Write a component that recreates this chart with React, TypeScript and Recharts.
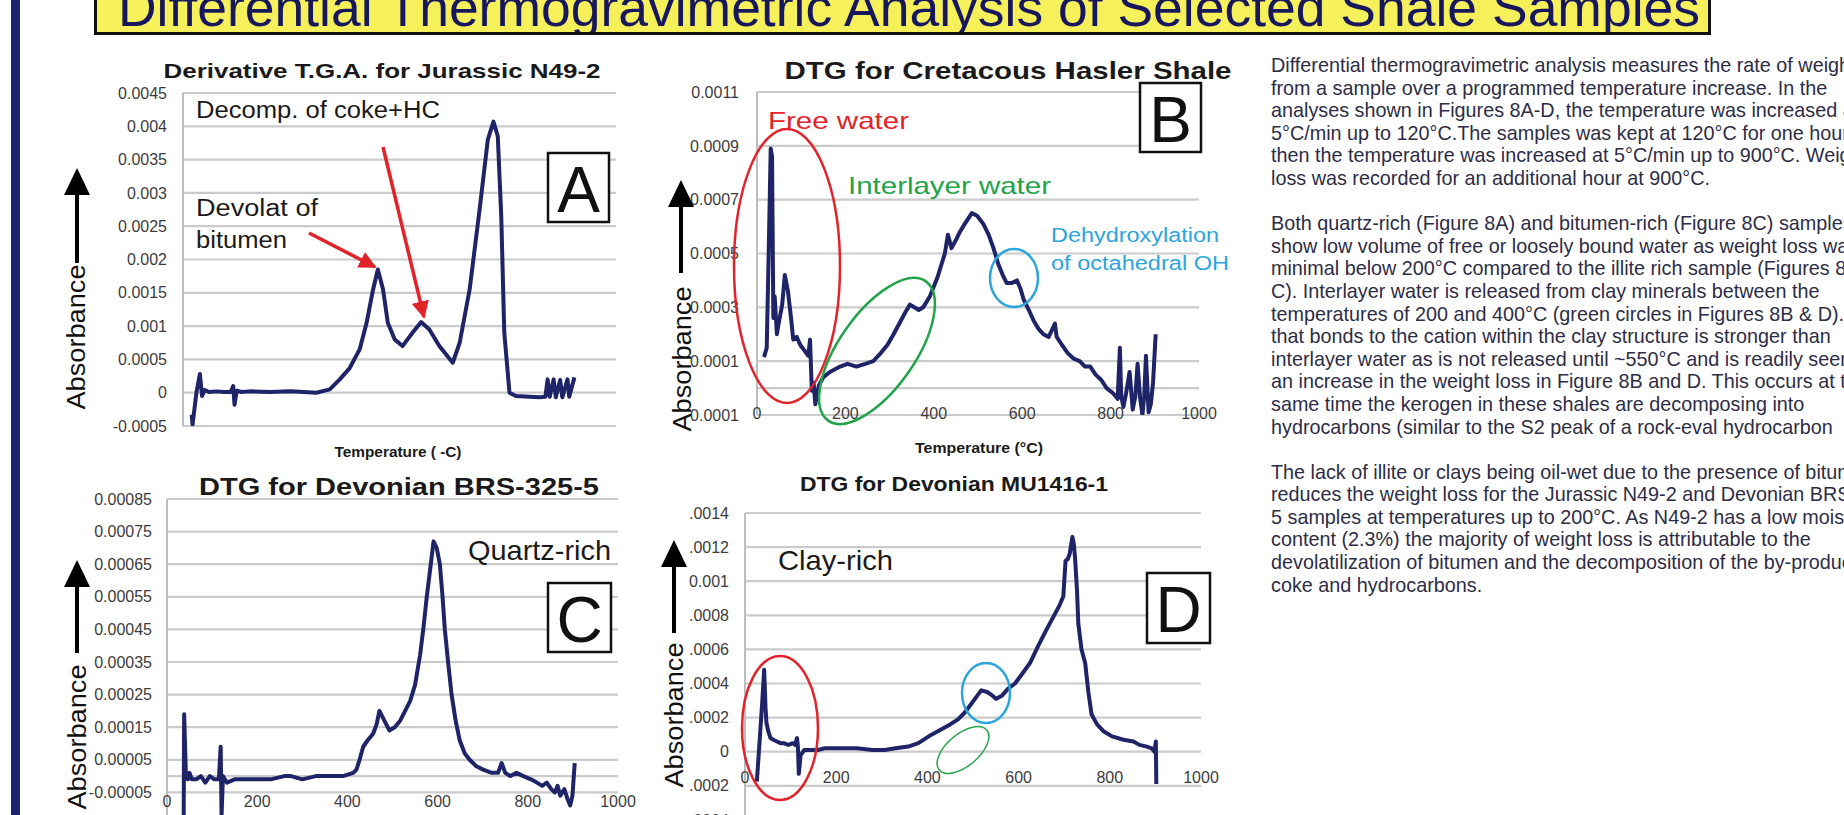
import React from 'react';
import { LineChart, Line, XAxis, YAxis, CartesianGrid } from 'recharts';

const FONT = '"Liberation Sans", Arial, Helvetica, sans-serif';

// ---- chart A : Derivative T.G.A. for Jurassic N49-2 ----
const A_TEMP = [20, 22, 31, 39, 44, 50, 60, 77, 95, 110, 116, 119, 124, 135, 153, 200, 249, 308, 339, 362, 385, 408, 424, 439, 450, 462, 473, 489, 507, 530, 550, 569, 592, 623, 639, 662, 685, 704, 717, 727, 735, 742, 754, 769, 800, 823, 837, 842, 847, 856, 861, 871, 876, 888, 892, 904];
const A_DTG = [-0.00033, -0.00048, 0, 0.00028, -0.00005, 0.00004, 0.00001, 0.00002, 0.00001, 0.00001, 0.0001, -0.00018, 0.00003, 0.00001, 0.00002, 0.00001, 0.00002, 0, 0.00005, 0.0002, 0.00037, 0.00065, 0.00105, 0.00155, 0.00185, 0.00155, 0.00105, 0.0008, 0.0007, 0.0009, 0.00106, 0.00095, 0.0007, 0.00045, 0.00075, 0.00155, 0.00275, 0.0038, 0.00407, 0.00385, 0.00265, 0.0009, 0, -0.00005, -0.00006, -0.00007, -0.00006, 0.0002, -0.00006, 0.0002, -0.00007, 0.00019, -0.00007, 0.0002, -0.00006, 0.00023];
const A_Y_TICKS = [-0.0005, 0, 0.0005, 0.001, 0.0015, 0.002, 0.0025, 0.003, 0.0035, 0.004, 0.0045];
const A_Y_LABELS = ['-0.0005', '0', '0.0005', '0.001', '0.0015', '0.002', '0.0025', '0.003', '0.0035', '0.004', '0.0045'];

// ---- chart B : DTG for Cretacous Hasler Shale ----
const B_TEMP = [16, 22, 27, 31, 34, 37, 40, 45, 50, 57, 63, 70, 77, 82, 90, 98, 107, 116, 120, 124, 128, 132, 140, 150, 165, 188, 205, 225, 245, 263, 280, 295, 309, 322, 335, 346, 356, 366, 376, 391, 408, 425, 432, 440, 450, 459, 470, 486, 498, 512, 524, 535, 546, 556, 565, 576, 588, 596, 603, 615, 626, 637, 648, 660, 674, 678, 690, 703, 716, 730, 742, 754, 766, 779, 791, 806, 816, 821, 824, 829, 835, 843, 850, 856, 861, 867, 872, 876, 880, 886, 891, 896, 902];
const B_DTG = [0.000115, 0.00015, 0.00055, 0.00089, 0.00086, 0.00026, 0.00034, 0.0002, 0.00025, 0.00031, 0.00042, 0.00036, 0.00026, 0.00018, 0.00019, 0.00016, 0.00014, 0.00012, 0.00018, -0.00001, 0.00002, -0.00006, 0.00001, 0.00004, 0.00006, 0.00008, 0.00009, 0.00008, 0.00009, 0.0001, 0.00013, 0.00016, 0.0002, 0.00024, 0.00028, 0.00031, 0.0003, 0.00029, 0.0003, 0.00034, 0.00041, 0.0005, 0.00057, 0.00052, 0.00055, 0.00058, 0.00061, 0.00065, 0.00064, 0.00061, 0.00057, 0.00052, 0.00046, 0.00042, 0.00039, 0.00039, 0.0004, 0.00037, 0.00033, 0.00029, 0.00025, 0.00022, 0.0002, 0.00019, 0.00024, 0.00019, 0.00016, 0.00013, 0.00011, 0.0001, 0.00008, 0.00008, 0.00005, 0.00003, 0, -0.00002, -0.00004, 0.00015, -0.00003, -0.00007, -0.00002, 0.00006, -0.00008, -0.00003, 0.00009, -0.00004, -0.0001, -0.00003, 0.00012, -0.00009, -0.00006, 0.00002, 0.0002];
const B_Y_TICKS = [-0.0001, 0, 0.0001, 0.0003, 0.0005, 0.0007, 0.0009, 0.0011];
const B_Y_LABELS = ['0.0001', '', '0.0001', '0.0003', '0.0005', '0.0007', '0.0009', '0.0011'];

// ---- chart C : DTG for Devonian BRS-325-5 ----
const C_TEMP = [37, 38, 42, 46, 50, 55, 65, 75, 85, 95, 105, 115, 119, 121, 124, 133, 150, 170, 183, 200, 230, 260, 275, 300, 330, 367, 390, 413, 420, 427, 435, 445, 457, 465, 471, 482, 493, 505, 517, 528, 539, 550, 561, 569, 576, 584, 591, 598, 605, 611, 616, 624, 631, 640, 649, 660, 671, 686, 701, 720, 734, 742, 750, 761, 775, 790, 807, 820, 832, 842, 852, 860, 866, 872, 881, 888, 894, 899, 904];
const C_DTG = [-0.00012, 0.00019, 0, -0.00001, 0.00001, -0.00001, -0.00001, 0, -0.00002, 0, -0.00001, -0.00001, 0.00009, -0.00012, 0, -0.00002, -0.00001, -0.00001, -0.00001, -0.00001, -0.00001, 0, 0, -0.00001, 0, 0, 0, 0.00001, 0.00002, 0.00005, 0.00009, 0.00011, 0.00013, 0.00016, 0.0002, 0.00017, 0.00014, 0.00015, 0.00017, 0.0002, 0.00023, 0.00028, 0.00037, 0.00046, 0.00055, 0.00064, 0.00072, 0.0007, 0.00065, 0.00055, 0.00045, 0.00034, 0.00025, 0.00017, 0.00011, 0.00007, 0.00005, 0.00003, 0.00002, 0.00001, 0.00001, 0.00004, 0.00001, 0, 0.00001, 0, -0.00001, -0.00002, -0.00003, -0.00002, -0.00004, -0.00005, -0.00003, -0.00006, -0.00004, -0.00007, -0.00009, -0.00006, 0.00004];
const C_Y_TICKS = [-0.00015, -0.00005, 0, 0.00005, 0.00015, 0.00025, 0.00035, 0.00045, 0.00055, 0.00065, 0.00075, 0.00085];
const C_Y_LABELS = ['-0.00015', '-0.00005', '', '0.00005', '0.00015', '0.00025', '0.00035', '0.00045', '0.00055', '0.00065', '0.00075', '0.00085'];

// ---- chart D : DTG for Devonian MU1416-1 ----
const D_TEMP = [26, 33, 38, 42, 45, 47, 51, 56, 62, 70, 78, 85, 95, 105, 110, 114, 116, 118, 122, 130, 144, 160, 175, 200, 245, 280, 306, 330, 358, 380, 409, 430, 450, 467, 482, 496, 507, 518, 531, 542, 551, 564, 577, 592, 606, 625, 643, 662, 680, 690, 698, 703, 708, 712, 718, 721, 724, 728, 731, 738, 746, 753, 760, 772, 786, 805, 830, 852, 865, 881, 892, 898, 901, 902];
const D_DTG = [-0.000176, 0.0001, 0.0003, 0.00048, 0.00026, 0.00017, 0.00012, 0.00008, 0.00007, 0.00006, 0.00005, 0.00005, 0.00004, 0.00005, 0.00004, 0.00008, 0.00003, -0.00013, -0.00002, 0.00001, 0.00001, 0.00001, 0.00002, 0.00002, 0.00002, 0.00001, 0.00001, 0.00002, 0.00003, 0.00005, 0.0001, 0.00013, 0.00016, 0.00019, 0.00023, 0.00028, 0.00032, 0.00036, 0.00035, 0.00033, 0.00031, 0.00033, 0.00037, 0.0004, 0.00045, 0.00052, 0.00062, 0.00072, 0.00081, 0.00086, 0.00091, 0.00112, 0.00113, 0.00116, 0.00126, 0.00122, 0.00113, 0.00095, 0.00075, 0.0006, 0.00052, 0.00035, 0.00022, 0.00016, 0.00012, 0.00009, 0.00007, 0.00006, 0.00004, 0.00003, 0.00002, 0, 0.00006, -0.00019];
const D_Y_TICKS = [-0.0006, -0.0004, -0.0002, 0, 0.0002, 0.0004, 0.0006, 0.0008, 0.001, 0.0012, 0.0014];
const D_Y_LABELS = ['.0006', '.0004', '.0002', '0', '.0002', '.0004', '.0006', '.0008', '0.001', '.0012', '.0014'];

const X_TICKS = [0, 200, 400, 600, 800, 1000];
const X_LABELS = ['0', '200', '400', '600', '800', '1000'];

const TEXT_LINES = [
  'Differential thermogravimetric analysis measures the rate of weight loss',
  'from a sample over a programmed temperature increase. In the',
  'analyses shown in Figures 8A-D, the temperature was increased at',
  '5°C/min up to 120°C.The samples was kept at 120°C for one hour,',
  'then the temperature was increased at 5°C/min up to 900°C. Weight',
  'loss was recorded for an additional hour at 900°C.',
  '',
  'Both quartz-rich (Figure 8A) and bitumen-rich (Figure 8C) samples',
  'show low volume of free or loosely bound water as weight loss was',
  'minimal below 200°C compared to the illite rich sample (Figures 8B &',
  'C). Interlayer water is released from clay minerals between the',
  'temperatures of 200 and 400°C (green circles in Figures 8B & D). Water',
  'that bonds to the cation within the clay structure is stronger than',
  'interlayer water as is not released until ~550°C and is readily seen as',
  'an increase in the weight loss in Figure 8B and D. This occurs at the',
  'same time the kerogen in these shales are decomposing into',
  'hydrocarbons (similar to the S2 peak of a rock-eval hydrocarbon',
  '',
  'The lack of illite or clays being oil-wet due to the presence of bitumen',
  'reduces the weight loss for the Jurassic N49-2 and Devonian BRS-325-',
  '5 samples at temperatures up to 200°C. As N49-2 has a low moisture',
  'content (2.3%) the majority of weight loss is attributable to the',
  'devolatilization of bitumen and the decomposition of the by-products',
  'coke and hydrocarbons.',
];

const LINE_COLOR = '#1f2468';

function Panel({ temps, values, yDomain, yTicks, yLabels, left, top, width, height, gap, xLabelY }: any) {
  const data = temps.map((t: number, i: number) => ({ t, v: values[i] }));
  const padL = 110, padT = 20, padR = 20, padB = 40;
  const boxLeft = left - padL;
  const boxTop = top - padT;

  const fmt = (v: number) => {
    const i = yTicks.findIndex((k: number) => Math.abs(k - v) < 1e-12);
    return i >= 0 ? yLabels[i] : '';
  };

  // x labels sit just below the zero line, like the Excel axis crossing at 0
  const XTick = (props: any) => {
    const { x, payload } = props;
    if (xLabelY == null) return <g />;
    const i = X_TICKS.indexOf(payload.value);
    return (
      <text x={x} y={xLabelY - boxTop} textAnchor="middle" dominantBaseline="central" fontSize={16} fill="#3c3c3c" fontFamily={FONT}>
        {X_LABELS[i]}
      </text>
    );
  };

  return (
    <div style={{ position: 'absolute', left: boxLeft, top: boxTop }}>
      <LineChart width={width + padL + padR} height={height + padT + padB} data={data} margin={{ top: padT, right: padR, bottom: 0, left: 0 }}>
        <CartesianGrid vertical={false} stroke="#cbcbcb" strokeWidth={2.2} />
        <XAxis type="number" dataKey="t" domain={[0, 1000]} ticks={X_TICKS} interval={0} height={padB} tickLine={false} axisLine={false} tickSize={0} tick={XTick} allowDataOverflow />
        <YAxis type="number" domain={yDomain} ticks={yTicks} interval={0} width={padL} tickLine={false} tickSize={0} tickMargin={gap} axisLine={{ stroke: '#bdbdbd', strokeWidth: 2 }} tick={{ fontSize: 16, fill: '#3c3c3c', fontFamily: FONT }} tickFormatter={fmt} allowDataOverflow />
        <Line type="linear" dataKey="v" stroke={LINE_COLOR} strokeWidth={4} strokeLinejoin="round" dot={false} isAnimationActive={false} />
      </LineChart>
    </div>
  );
}

function Fit({ x, y, w, size, bold, color, anchor, children }: any) {
  return (
    <text x={x} y={y} fontSize={size} fontWeight={bold ? 'bold' : 'normal'} fill={color || '#1a1a1a'} fontFamily={FONT}
      textAnchor={anchor || 'start'} dominantBaseline="central" textLength={w} lengthAdjust="spacingAndGlyphs">
      {children}
    </text>
  );
}

function Absorbance({ cx, cy, ax, tip, bottom }: any) {
  return (
    <g>
      <text x={cx} y={cy} fontSize={26} fill="#111" fontFamily={FONT} textAnchor="middle" dominantBaseline="central"
        transform={`rotate(-90 ${cx} ${cy})`} textLength={145} lengthAdjust="spacingAndGlyphs">Absorbance</text>
      <line x1={ax} y1={bottom} x2={ax} y2={tip + 20} stroke="#000" strokeWidth={4} />
      <polygon points={`${ax},${tip} ${ax - 13},${tip + 27} ${ax + 13},${tip + 27}`} fill="#000" />
    </g>
  );
}

function LetterBox({ x, y, w, h, letter }: any) {
  return (
    <g>
      <rect x={x} y={y} width={w} height={h} fill="#fff" stroke="#111" strokeWidth={2.5} />
      <text x={x + w / 2} y={y + h / 2 + 2} fontSize={64} fill="#111" fontFamily={FONT} textAnchor="middle" dominantBaseline="central">{letter}</text>
    </g>
  );
}

export default function App() {
  const red = '#e2232a';
  const green = '#22a34a';
  const blue = '#2ba5dc';
  return (
    <div style={{ position: 'fixed', left: 0, top: 0, width: 1844, height: 815, overflow: 'hidden', background: '#ffffff', fontFamily: FONT }}>
      <Panel temps={A_TEMP} values={A_DTG} yDomain={[-0.0005, 0.0045]} yTicks={A_Y_TICKS} yLabels={A_Y_LABELS}
        left={183} top={93} width={433} height={333} gap={16} xLabelY={null} />
      <Panel temps={B_TEMP} values={B_DTG} yDomain={[-0.0001, 0.0011]} yTicks={B_Y_TICKS} yLabels={B_Y_LABELS}
        left={757} top={92} width={442} height={323} gap={18} xLabelY={413} />
      <Panel temps={C_TEMP} values={C_DTG} yDomain={[-0.00015, 0.00085]} yTicks={C_Y_TICKS} yLabels={C_Y_LABELS}
        left={167} top={499} width={451} height={326} gap={15} xLabelY={801} />
      <Panel temps={D_TEMP} values={D_DTG} yDomain={[-0.0006, 0.0014]} yTicks={D_Y_TICKS} yLabels={D_Y_LABELS}
        left={745} top={513} width={456} height={341} gap={16} xLabelY={777} />

      <div style={{ position: 'absolute', left: 1271, top: 54, fontSize: 19.8, lineHeight: '22.6px', color: '#2d2d45', whiteSpace: 'pre' }}>
        {TEXT_LINES.map((l, i) => (<div key={i} style={{ height: 22.6 }}>{l}</div>))}
      </div>

      <svg width={1844} height={815} style={{ position: 'absolute', left: 0, top: 0, pointerEvents: 'none' }}>
        <defs>
          <clipPath id="titleClip"><rect x={96} y={-10} width={1613} height={42} /></clipPath>
          <marker id="redHead" viewBox="0 0 10 10" refX="9" refY="5" markerWidth="5" markerHeight="5" orient="auto">
            <path d="M0,0 L10,5 L0,10 z" fill={red} />
          </marker>
        </defs>

        {/* side bar and title banner */}
        <rect x={11} y={0} width={9} height={815} fill="#1d2272" />
        <rect x={95.5} y={-10} width={1614} height={43.5} fill="#f6f05a" stroke="#111" strokeWidth={3} />
        <g clipPath="url(#titleClip)">
          <text x={118} y={26} fontSize={53} fill="#16175c" fontFamily={FONT} textLength={1582} lengthAdjust="spacingAndGlyphs">
            Differential Thermogravimetric Analysis of Selected Shale Samples
          </text>
        </g>

        {/* chart titles */}
        <Fit x={382} y={70} w={437} size={21} bold anchor="middle">Derivative T.G.A. for Jurassic N49-2</Fit>
        <Fit x={1008} y={70} w={447} size={24} bold anchor="middle">DTG for Cretacous Hasler Shale</Fit>
        <Fit x={399} y={487} w={400} size={23} bold anchor="middle">DTG for Devonian BRS-325-5</Fit>
        <Fit x={954} y={483} w={308} size={21} bold anchor="middle">DTG for Devonian MU1416-1</Fit>
        <Fit x={398} y={452} w={127} size={14} bold anchor="middle">Temperature ( -C)</Fit>
        <Fit x={979} y={448} w={128} size={14} bold anchor="middle">Temperature (°C)</Fit>

        {/* chart A notes */}
        <Fit x={196} y={110} w={244} size={23}>Decomp. of coke+HC</Fit>
        <Fit x={196} y={208} w={122} size={23}>Devolat  of</Fit>
        <Fit x={196} y={240} w={91} size={23}>bitumen</Fit>
        <line x1={309} y1={233} x2={375} y2={267} stroke={red} strokeWidth={3.5} markerEnd="url(#redHead)" />
        <line x1={383} y1={147} x2={424} y2={317} stroke={red} strokeWidth={3.5} markerEnd="url(#redHead)" />
        <LetterBox x={548} y={153} w={61} h={69} letter="A" />

        {/* chart B notes */}
        <Fit x={768} y={120} w={141} size={24} color={red}>Free water</Fit>
        <Fit x={848} y={185} w={203} size={24} color={green}>Interlayer water</Fit>
        <Fit x={1051} y={235} w={168} size={20} color={blue}>Dehydroxylation</Fit>
        <Fit x={1051} y={263} w={178} size={20} color={blue}>of octahedral OH</Fit>
        <ellipse cx={787} cy={266} rx={53} ry={137} fill="none" stroke={red} strokeWidth={2.5} />
        <ellipse cx={877} cy={351} rx={85} ry={38} fill="none" stroke={green} strokeWidth={2.5} transform="rotate(-55 877 351)" />
        <ellipse cx={1014} cy={278} rx={24} ry={29} fill="none" stroke={blue} strokeWidth={2.5} />
        <LetterBox x={1140} y={83} w={61} h={69} letter="B" />

        {/* chart C notes */}
        <Fit x={468} y={550} w={143} size={28}>Quartz-rich</Fit>
        <LetterBox x={548} y={583} w={63} h={69} letter="C" />

        {/* chart D notes */}
        <Fit x={778} y={560} w={115} size={28}>Clay-rich</Fit>
        <ellipse cx={780} cy={728} rx={38} ry={72} fill="none" stroke={red} strokeWidth={2.5} />
        <ellipse cx={986} cy={693} rx={24} ry={30} fill="none" stroke={blue} strokeWidth={2.5} />
        <ellipse cx={963} cy={750} rx={31} ry={16} fill="none" stroke={green} strokeWidth={1.5} transform="rotate(-40 963 750)" />
        <LetterBox x={1147} y={573} w={63} h={70} letter="D" />

        {/* y axis captions */}
        <Absorbance cx={76} cy={337} ax={77} tip={168} bottom={263} />
        <Absorbance cx={682} cy={359} ax={681} tip={180} bottom={273} />
        <Absorbance cx={77} cy={737} ax={77} tip={560} bottom={653} />
        <Absorbance cx={674} cy={715} ax={674} tip={540} bottom={633} />
      </svg>
    </div>
  );
}
